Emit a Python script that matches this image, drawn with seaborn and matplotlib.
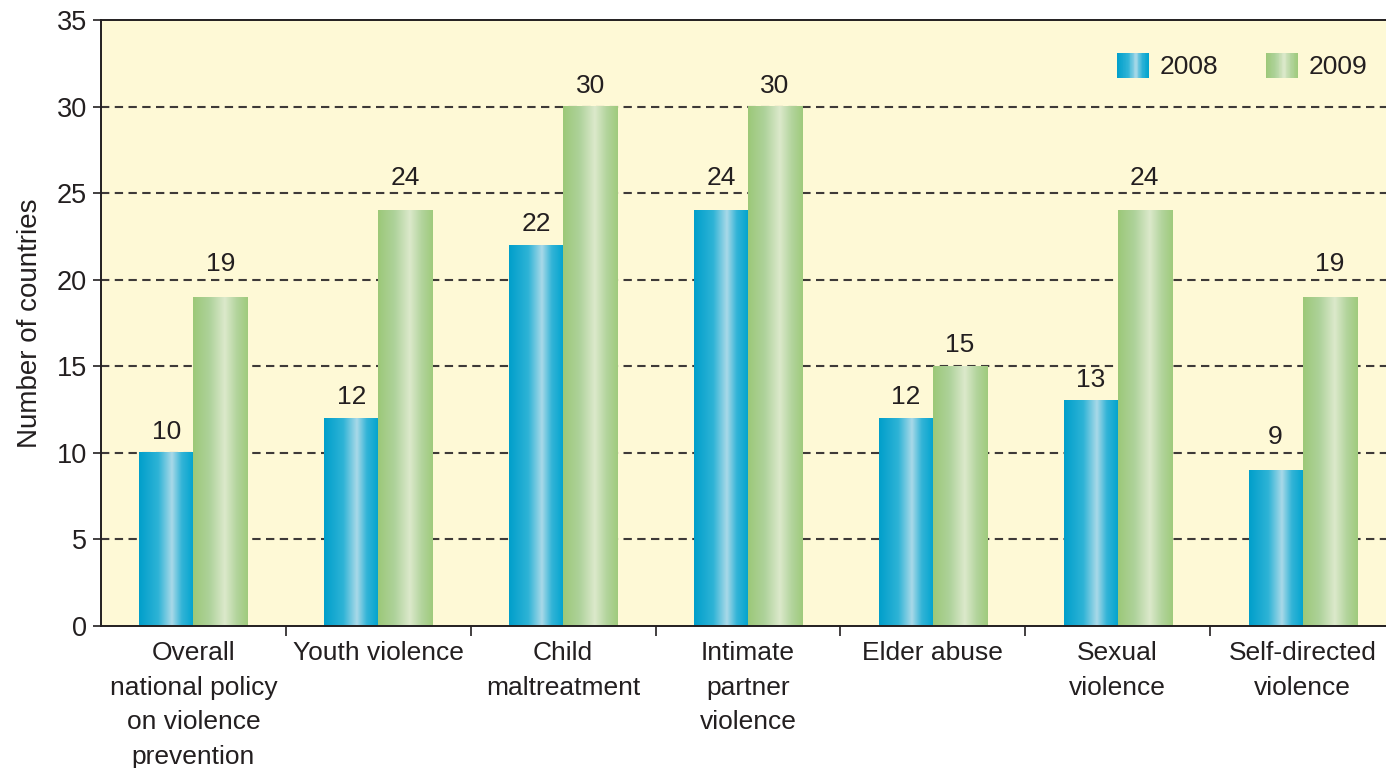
import numpy as np
import pandas as pd
import matplotlib
matplotlib.use("Agg")
import matplotlib.pyplot as plt
import seaborn as sns
from matplotlib.colors import LinearSegmentedColormap
from matplotlib.patches import Rectangle
from matplotlib.legend_handler import HandlerPatch
from matplotlib.ticker import FixedLocator, MultipleLocator

categories = [
    "Overall\nnational policy\non violence\nprevention",
    "Youth violence",
    "Child\nmaltreatment",
    "Intimate\npartner\nviolence",
    "Elder abuse",
    "Sexual\nviolence",
    "Self-directed\nviolence",
]
values_2008 = [10, 12, 22, 24, 12, 13, 9]
values_2009 = [19, 24, 30, 30, 15, 24, 19]
years = ["2008", "2009"]

df = pd.DataFrame({
    "category": categories * 2,
    "year": [years[0]] * len(categories) + [years[1]] * len(categories),
    "count": values_2008 + values_2009,
})

TEXT = "#231F20"
GRID = "#3E3A38"
BG = "#FEF9D6"

blue_cmap = LinearSegmentedColormap.from_list(
    "blue_bar", [(0.0, "#009FCB"), (0.35, "#2EB3D6"), (0.6, "#A9D9E8"),
                 (0.78, "#33B4D7"), (1.0, "#00A3CE")])
green_cmap = LinearSegmentedColormap.from_list(
    "green_bar", [(0.0, "#9CC878"), (0.3, "#AED29A"), (0.58, "#DCE9CB"),
                  (0.8, "#B2D49C"), (1.0, "#9FCA7C")])
cmaps = {years[0]: blue_cmap, years[1]: green_cmap}

sns.set_theme(style="white")
plt.rcParams["font.family"] = ["Liberation Sans", "DejaVu Sans"]
plt.rcParams["text.color"] = TEXT

fig = plt.figure(figsize=(13.86, 7.68), dpi=100)
ax = fig.add_axes([101 / 1386, 142 / 768, 1294 / 1386, 606 / 768])
ax.set_facecolor(BG)

sns.barplot(data=df, x="category", y="count", hue="year", hue_order=years,
            palette=[blue_cmap(0.0), green_cmap(0.0)], width=0.585,
            dodge=True, ax=ax, legend=False, zorder=2)

ax.set_xlim(-0.5, 6.5)
ax.set_ylim(0, 35)


def label_padding(v):
    # values sitting just under a gridline get their label lifted above it
    gap = (-v) % 5
    return 15.0 if gap == 1 else 6.5


# Replace flat bar fills with horizontal gradients and add value labels
grad = np.linspace(0, 1, 256).reshape(1, -1)
for year, container in zip(years, ax.containers):
    for patch, v in zip(container, container.datavalues):
        x0, y0 = patch.get_x(), patch.get_y()
        w, h = patch.get_width(), patch.get_height()
        ax.imshow(grad, extent=[x0, x0 + w, y0, y0 + h], aspect="auto",
                  cmap=cmaps[year], zorder=2, interpolation="bilinear")
        patch.set_facecolor("none")
        patch.set_edgecolor("none")
        ax.annotate(f"{int(v)}", xy=(x0 + w / 2, y0 + h),
                    xytext=(0, label_padding(int(v))), textcoords="offset points",
                    ha="center", va="bottom", fontsize=19, color=TEXT)

ax.set_xlim(-0.5, 6.5)
ax.set_ylim(0, 35)

# Dashed horizontal gridlines
for yv in range(5, 35, 5):
    ax.axhline(yv, color=GRID, lw=1.5, ls=(0, (4, 2.6)), zorder=1)

ax.yaxis.set_major_locator(MultipleLocator(5))
ax.tick_params(axis="y", which="major", direction="out", length=6, width=1.2,
               color=TEXT, labelsize=19.5, labelcolor=TEXT, pad=4, left=True)
ax.tick_params(axis="x", which="major", length=0, labelsize=19,
               labelcolor=TEXT, pad=11)
ax.xaxis.set_minor_locator(FixedLocator([i + 0.5 for i in range(6)]))
ax.tick_params(axis="x", which="minor", direction="out", length=7, width=1.2,
               color=TEXT, bottom=True)
for lbl in ax.get_xticklabels():
    lbl.set_linespacing(1.55)

for side in ["left", "bottom", "top"]:
    ax.spines[side].set_color(TEXT)
    ax.spines[side].set_linewidth(1.4)
ax.spines["right"].set_visible(False)

ax.set_xlabel("")
ax.set_ylabel("Number of countries", fontsize=20, color=TEXT, labelpad=10)


class GradientHandler(HandlerPatch):
    def __init__(self, cmap, **kw):
        super().__init__(**kw)
        self.cmap = cmap

    def create_artists(self, legend, orig_handle, xdescent, ydescent,
                       width, height, fontsize, trans):
        n = 40
        arts = []
        for i in range(n):
            r = Rectangle((-xdescent + width * i / n, -ydescent), width / n * 1.05,
                          height, facecolor=self.cmap((i + 0.5) / n),
                          edgecolor="none", transform=trans)
            arts.append(r)
        return arts


handles = [Rectangle((0, 0), 1, 1) for _ in years]
leg = ax.legend(handles, years, ncol=2, loc="upper right",
                bbox_to_anchor=(0.997, 0.985),
                frameon=False, fontsize=19, handlelength=1.2, handleheight=1.1,
                handletextpad=0.42, columnspacing=1.8,
                handler_map={handles[0]: GradientHandler(blue_cmap),
                             handles[1]: GradientHandler(green_cmap)})

fig.savefig("out.png", dpi=100)
